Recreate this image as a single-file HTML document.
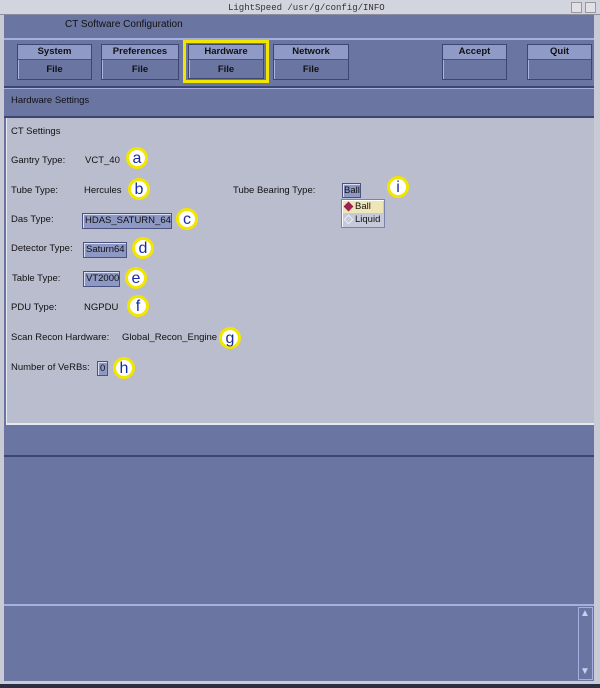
<!DOCTYPE html>
<html><head><style>
*{margin:0;padding:0;box-sizing:border-box}
body{width:600px;height:688px;background:#6a75a2;position:relative;overflow:hidden;font-family:"Liberation Sans",sans-serif;font-size:9.5px;color:#111}
.a{position:absolute}
.btn{position:absolute;border:1px solid #3d4670;background:#6a75a2;box-shadow:inset 1px 1px 0 #aab4e0}
.btn .t{height:15px;background:#8f9ac6;border-bottom:1px solid #4a5380;text-align:center;line-height:14px;color:#111;font-weight:bold}
.btn .b{text-align:center;line-height:20px;color:#111;font-weight:bold}
.lbl{position:absolute;white-space:nowrap;line-height:14px}
.pb{position:absolute;background:#8d98c4;border:1px solid #4a5380;box-shadow:inset 1px 1px 0 #d8def5;line-height:14px;padding:0 2px;white-space:nowrap}
.c{position:absolute;width:22px;height:22px;border-radius:50%;background:#fff;border:3px solid #f2e600;color:#1a2aa0;font-size:16px;text-align:center;line-height:17px;font-family:"Liberation Sans",sans-serif}
</style></head><body>
<div class="a" style="left:0;top:0;width:600px;height:15px;background:#d2d4de;border-bottom:1px solid #8a8ea0"></div>
<div class="lbl" style="left:228px;top:1px;font-family:'Liberation Mono',monospace;font-size:9px;color:#333">LightSpeed /usr/g/config/INFO</div>
<div class="a" style="left:571px;top:2px;width:11px;height:11px;border:1px solid #999;background:#e0e0e6"></div>
<div class="a" style="left:585px;top:2px;width:11px;height:11px;border:1px solid #999;background:#e0e0e6"></div>
<div class="a" style="left:0;top:15px;width:4px;height:673px;background:#c8cad6"></div>
<div class="a" style="left:594px;top:15px;width:6px;height:673px;background:#c8cad6"></div>
<div class="lbl" style="left:65px;top:18px;font-size:10px">CT Software Configuration</div>
<div class="a" style="left:4px;top:38px;width:590px;height:2px;background:#a5b0e0"></div>
<div class="a" style="left:4px;top:86px;width:590px;height:2px;background:#3d4670"></div>
<div class="a" style="left:4px;top:88px;width:590px;height:1px;background:#a5b0e0"></div>
<div class="btn" style="left:17px;top:44px;width:75px;height:36px"><div class="t">System</div><div class="b">File</div></div>
<div class="btn" style="left:101px;top:44px;width:78px;height:36px"><div class="t">Preferences</div><div class="b">File</div></div>
<div class="a" style="left:183px;top:40px;width:86px;height:43px;border:3px solid #f2e600"></div>
<div class="btn" style="left:188px;top:44px;width:76px;height:35px"><div class="t">Hardware</div><div class="b">File</div></div>
<div class="btn" style="left:273px;top:44px;width:76px;height:36px"><div class="t">Network</div><div class="b">File</div></div>
<div class="btn" style="left:442px;top:44px;width:65px;height:36px"><div class="t">Accept</div><div class="b"></div></div>
<div class="btn" style="left:527px;top:44px;width:65px;height:36px"><div class="t">Quit</div><div class="b"></div></div>
<div class="lbl" style="left:11px;top:94px">Hardware Settings</div>
<div class="a" style="left:4px;top:116px;width:590px;height:2px;background:#3d4670"></div>
<div class="a" style="left:6px;top:118px;width:588px;height:307px;background:#babdce;border-left:1px solid #e6e8f0;border-bottom:2px solid #e6e8f0"></div>
<div class="lbl" style="left:11px;top:125px">CT Settings</div>
<div class="lbl" style="left:11px;top:154px">Gantry Type:</div><div class="lbl" style="left:85px;top:154px">VCT_40</div><div class="c" style="left:126px;top:147px">a</div>
<div class="lbl" style="left:11px;top:184px">Tube Type:</div><div class="lbl" style="left:84px;top:184px">Hercules</div><div class="c" style="left:128px;top:178px">b</div>
<div class="lbl" style="left:233px;top:184px">Tube Bearing Type:</div>
<div class="pb" style="left:342px;top:183px;width:19px;height:15px;padding:0 1px;line-height:13px">Ball</div>
<div class="c" style="left:387px;top:176px">i</div>
<div class="a" style="left:341px;top:199px;width:44px;height:29px;background:#c5c9da;border:1px solid #7a82a8;box-shadow:inset 1px 1px 0 #fff"></div>
<div class="a" style="left:343px;top:201px;width:40px;height:12px;background:#efe6b8"></div>
<div class="a" style="left:345px;top:203px;width:7px;height:7px;background:#a02050;transform:rotate(45deg)"></div>
<div class="lbl" style="left:355px;top:200px">Ball</div>
<div class="a" style="left:345px;top:216px;width:7px;height:7px;border:1px solid #eee;transform:rotate(45deg)"></div>
<div class="lbl" style="left:355px;top:213px">Liquid</div>
<div class="lbl" style="left:11px;top:213px">Das Type:</div><div class="pb" style="left:82px;top:213px;width:90px;height:16px">HDAS_SATURN_64</div><div class="c" style="left:176px;top:208px">c</div>
<div class="lbl" style="left:11px;top:242px">Detector Type:</div><div class="pb" style="left:83px;top:242px;width:44px;height:16px">Saturn64</div><div class="c" style="left:132px;top:237px">d</div>
<div class="lbl" style="left:12px;top:272px">Table Type:</div><div class="pb" style="left:83px;top:271px;width:37px;height:16px">VT2000</div><div class="c" style="left:125px;top:267px">e</div>
<div class="lbl" style="left:11px;top:301px">PDU Type:</div><div class="lbl" style="left:84px;top:301px">NGPDU</div><div class="c" style="left:127px;top:295px">f</div>
<div class="lbl" style="left:11px;top:331px">Scan Recon Hardware:</div><div class="lbl" style="left:122px;top:331px">Global_Recon_Engine</div><div class="c" style="left:219px;top:327px">g</div>
<div class="lbl" style="left:11px;top:361px">Number of VeRBs:</div><div class="pb" style="left:97px;top:361px;width:11px;height:15px;padding:0 2px;line-height:13px">0</div><div class="c" style="left:113px;top:357px">h</div>
<div class="a" style="left:4px;top:455px;width:590px;height:2px;background:#3d4670"></div>
<div class="a" style="left:4px;top:604px;width:590px;height:2px;background:#a5b0e0"></div>
<div class="a" style="left:578px;top:607px;width:15px;height:73px;background:#6a75a2;border:1px solid #a5b0e0"></div>
<div class="lbl" style="left:580px;top:607px;color:#c8d0f0;font-size:10px">▲</div>
<div class="lbl" style="left:580px;top:665px;color:#c8d0f0;font-size:10px">▼</div>
<div class="a" style="left:0;top:681px;width:600px;height:3px;background:#c8cad6"></div>
<div class="a" style="left:0;top:684px;width:600px;height:4px;background:#2a2e40"></div>
</body></html>
